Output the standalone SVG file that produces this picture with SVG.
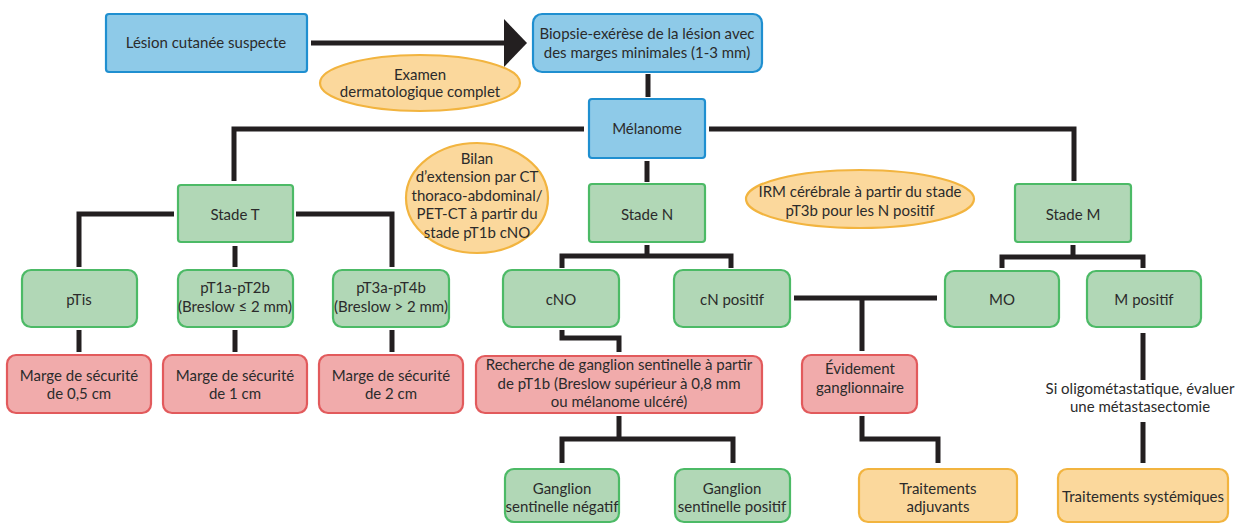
<svg xmlns="http://www.w3.org/2000/svg" width="1246" height="524" viewBox="0 0 1246 524">
<defs>
<style>
.t{font-family:Lato,"Liberation Sans",sans-serif;font-size:15px;fill:#2b2b2b;text-anchor:middle}
.blue{fill:#8ecae8;stroke:#1f8fd0;stroke-width:2.2}
.green{fill:#b1d7b6;stroke:#4cba66;stroke-width:2.2}
.red{fill:#f1abab;stroke:#e25a5c;stroke-width:2.2}
.org{fill:#fbd89c;stroke:#f2b43f;stroke-width:2.2}
.c{fill:none;stroke:#231f20;stroke-width:5;stroke-linejoin:miter}
</style>
<marker id="ah" markerUnits="userSpaceOnUse" markerWidth="24" markerHeight="48" refX="1" refY="24" orient="auto">
<polygon points="0,0 23,24 0,48" fill="#231f20"/>
</marker>
</defs>
<rect width="1246" height="524" fill="#fff"/>
<g id="connectors">
<line class="c" x1="311" y1="43" x2="505" y2="43" stroke-width="6" marker-end="url(#ah)"/>
<line class="c" x1="648" y1="74" x2="648" y2="97"/>
<polyline class="c" points="584,129 234,129 234,181"/>
<polyline class="c" points="709,129 1074,129 1074,181"/>
<line class="c" x1="647" y1="161" x2="647" y2="182"/>
<polyline class="c" points="174,214 79,214 79,267"/>
<polyline class="c" points="296,214 392,214 392,267"/>
<line class="c" x1="235" y1="246" x2="235" y2="267"/>
<line class="c" x1="647" y1="245" x2="647" y2="256"/>
<polyline class="c" points="562,268 562,256 731,256 731,268"/>
<line class="c" x1="1073" y1="245" x2="1073" y2="257"/>
<polyline class="c" points="1002,268 1002,257 1143,257 1143,268"/>
<line class="c" x1="79" y1="330" x2="79" y2="352"/>
<line class="c" x1="235" y1="330" x2="235" y2="352"/>
<line class="c" x1="392" y1="330" x2="392" y2="352"/>
<polyline class="c" points="562,330 562,338 619,338 619,352"/>
<line class="c" x1="794" y1="298" x2="937" y2="298"/>
<line class="c" x1="862" y1="298" x2="862" y2="351"/>
<line class="c" x1="1143" y1="333" x2="1143" y2="380"/>
<line class="c" x1="619" y1="416" x2="619" y2="439"/>
<polyline class="c" points="562,463 562,439 733,439 733,463"/>
<polyline class="c" points="862,416 862,439 938,439 938,463"/>
<line class="c" x1="1143" y1="422" x2="1143" y2="463"/>
</g>
<g id="n-lesion"><rect class="blue" x="106" y="14" width="201" height="58" rx="3"/><text class="t" x="206" y="48">Lésion cutanée suspecte</text></g>
<g id="n-examen"><ellipse class="org" cx="420" cy="83" rx="100" ry="28"/><text class="t" x="420" y="80">Examen</text><text class="t" x="420" y="97">dermatologique complet</text></g>
<g id="n-biopsie"><rect class="blue" x="533" y="14" width="229" height="58" rx="9"/><text class="t" x="647" y="39">Biopsie-exérèse de la lésion avec</text><text class="t" x="647" y="58">des marges minimales (1-3 mm)</text></g>
<g id="n-melanome"><rect class="blue" x="589" y="99" width="116" height="59" rx="3"/><text class="t" x="647" y="134">Mélanome</text></g>
<g id="n-bilan"><ellipse class="org" cx="477" cy="198" rx="71" ry="55"/><text class="t" x="477" y="164">Bilan</text><text class="t" x="477" y="182">d’extension par CT</text><text class="t" x="477" y="201">thoraco-abdominal/</text><text class="t" x="477" y="219">PET-CT à partir du</text><text class="t" x="477" y="238">stade pT1b cNO</text></g>
<g id="n-irm"><ellipse class="org" cx="860" cy="199" rx="114" ry="29"/><text class="t" x="860" y="197">IRM cérébrale à partir du stade</text><text class="t" x="860" y="216">pT3b pour les N positif</text></g>
<g id="n-stadeT"><rect class="green" x="178" y="185" width="115" height="57" rx="3"/><text class="t" x="235" y="220">Stade T</text></g>
<g id="n-stadeN"><rect class="green" x="589" y="184" width="116" height="58" rx="3"/><text class="t" x="647" y="220">Stade N</text></g>
<g id="n-stadeM"><rect class="green" x="1015" y="184" width="116" height="58" rx="3"/><text class="t" x="1073" y="220">Stade M</text></g>
<g id="n-ptis"><rect class="green" x="22" y="270" width="115" height="57" rx="9"/><text class="t" x="79" y="305">pTis</text></g>
<g id="n-pt1a"><rect class="green" x="178" y="270" width="115" height="57" rx="9"/><text class="t" x="235" y="293">pT1a-pT2b</text><text class="t" x="235" y="312">(Breslow ≤ 2 mm)</text></g>
<g id="n-pt3a"><rect class="green" x="333" y="270" width="116" height="57" rx="9"/><text class="t" x="391" y="293">pT3a-pT4b</text><text class="t" x="391" y="312">(Breslow &gt; 2 mm)</text></g>
<g id="n-cno"><rect class="green" x="503" y="270" width="116" height="57" rx="9"/><text class="t" x="561" y="305">cNO</text></g>
<g id="n-cnpos"><rect class="green" x="674" y="270" width="116" height="57" rx="9"/><text class="t" x="732" y="305">cN positif</text></g>
<g id="n-mo"><rect class="green" x="945" y="271" width="114" height="56" rx="9"/><text class="t" x="1002" y="305">MO</text></g>
<g id="n-mpos"><rect class="green" x="1087" y="271" width="114" height="56" rx="9"/><text class="t" x="1144" y="305">M positif</text></g>
<g id="n-marge05"><rect class="red" x="7" y="355" width="144" height="58" rx="9"/><text class="t" x="79" y="381">Marge de sécurité</text><text class="t" x="79" y="399">de 0,5 cm</text></g>
<g id="n-marge1"><rect class="red" x="163" y="355" width="144" height="58" rx="9"/><text class="t" x="235" y="381">Marge de sécurité</text><text class="t" x="235" y="399">de 1 cm</text></g>
<g id="n-marge2"><rect class="red" x="319" y="355" width="144" height="58" rx="9"/><text class="t" x="391" y="381">Marge de sécurité</text><text class="t" x="391" y="399">de 2 cm</text></g>
<g id="n-recherche"><rect class="red" x="476" y="356" width="286" height="57" rx="9"/><text class="t" x="619" y="370">Recherche de ganglion sentinelle à partir</text><text class="t" x="619" y="389">de pT1b (Breslow supérieur à 0,8 mm</text><text class="t" x="619" y="407">ou mélanome ulcéré)</text></g>
<g id="n-evidement"><rect class="red" x="802" y="355" width="115" height="58" rx="9"/><text class="t" x="860" y="374">Évidement</text><text class="t" x="860" y="393">ganglionnaire</text></g>
<g id="n-oligo"><text class="t" x="1140" y="394">Si oligométastatique, évaluer</text><text class="t" x="1140" y="412">une métastasectomie</text></g>
<g id="n-gneg"><rect class="green" x="505" y="469" width="114" height="53" rx="9"/><text class="t" x="562" y="494">Ganglion</text><text class="t" x="562" y="512">sentinelle négatif</text></g>
<g id="n-gpos"><rect class="green" x="675" y="469" width="115" height="53" rx="9"/><text class="t" x="732" y="494">Ganglion</text><text class="t" x="732" y="512">sentinelle positif</text></g>
<g id="n-adj"><rect class="org" x="859" y="469" width="158" height="53" rx="9"/><text class="t" x="938" y="494">Traitements</text><text class="t" x="938" y="512">adjuvants</text></g>
<g id="n-sys"><rect class="org" x="1058" y="469" width="170" height="53" rx="9"/><text class="t" x="1143" y="502">Traitements systémiques</text></g>
</svg>
